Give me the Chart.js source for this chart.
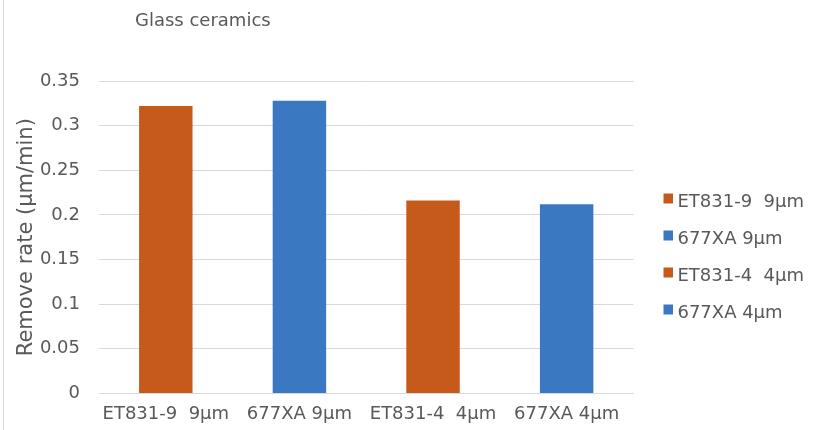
<!DOCTYPE html>
<html>
<head>
<meta charset="utf-8">
<script src="https://cdn.jsdelivr.net/npm/chart.js@4"></script>
<style>
html,body{margin:0;padding:0;background:#fff;}
#wrap{position:relative;width:819px;height:430px;}
#wrap:before{content:"";position:absolute;left:3px;top:0;width:1px;height:430px;background:#d9d9d9;}
</style>
</head>
<body>
<div id="wrap"><canvas id="c" width="819" height="430"></canvas></div>
<script>
const categories = ["ET831-9  9\u03bcm", "677XA 9\u03bcm", "ET831-4  4\u03bcm", "677XA 4\u03bcm"];
const values = [0.322, 0.328, 0.216, 0.212];
const colors = ["#C55A1B", "#3B78C2", "#C55A1B", "#3B78C2"];
const yTicks = [0, 0.05, 0.1, 0.15, 0.2, 0.25, 0.3, 0.35];
const titleText = "Glass ceramics";
const FONT = "'DejaVu Sans', sans-serif";
const GRAY = "#595959";

// legend marker: small square, offset to the right inside a transparent canvas
function markerCanvas(color) {
  const c = document.createElement('canvas');
  c.width = 26; c.height = 20;
  const g = c.getContext('2d');
  g.fillStyle = color;
  g.fillRect(16, 1, 10, 10);
  return c;
}
const markers = colors.map(markerCanvas);

const titlePlugin = {
  id: 'topTitle',
  afterDraw(chart) {
    const ctx = chart.ctx;
    ctx.save();
    ctx.font = "18px " + FONT;
    ctx.fillStyle = GRAY;
    ctx.textBaseline = 'middle';
    ctx.textAlign = 'left';
    ctx.fillText(titleText, 135, 21);
    ctx.restore();
  }
};

new Chart(document.getElementById('c'), {
  type: 'bar',
  data: {
    labels: categories,
    datasets: [{
      data: values,
      backgroundColor: colors,
      borderWidth: 0,
      categoryPercentage: 1,
      barPercentage: 0.4
    }]
  },
  options: {
    responsive: false,
    animation: false,
    devicePixelRatio: 1,
    layout: { padding: { top: 81, left: 12, right: 5, bottom: -5 } },
    plugins: {
      tooltip: { enabled: false },
      legend: {
        position: 'right',
        labels: {
          font: { family: FONT, size: 18 },
          color: GRAY,
          usePointStyle: true,
          pointStyleWidth: 16,
          boxHeight: 10,
          padding: 19,
          generateLabels(chart) {
            return categories.map((c, i) => ({
              text: c,
              fillStyle: colors[i],
              strokeStyle: colors[i],
              fontColor: GRAY,
              lineWidth: 0,
              pointStyle: markers[i],
              hidden: false,
              index: i
            }));
          }
        },
        onClick: () => {}
      }
    },
    scales: {
      x: {
        grid: { display: false, drawTicks: false },
        border: { color: '#d9d9d9', width: 1 },
        ticks: { font: { family: FONT, size: 18 }, color: GRAY, padding: 10, maxRotation: 0, autoSkip: false }
      },
      y: {
        min: 0, max: 0.35,
        afterBuildTicks(axis) { axis.ticks = yTicks.map(v => ({ value: v })); },
        afterFit(s) { s.width = 87; },
        grid: { color: '#d9d9d9', lineWidth: 1, drawTicks: false },
        border: { display: false },
        ticks: { font: { family: FONT, size: 18 }, color: GRAY, padding: 19,
          callback: v => String(Math.round(v * 100) / 100) },
        title: { display: true, text: 'Remove rate (\u03bcm/min)', font: { family: FONT, size: 21 }, color: GRAY, padding: 2 }
      }
    }
  },
  plugins: [titlePlugin]
});
</script>
</body>
</html>
